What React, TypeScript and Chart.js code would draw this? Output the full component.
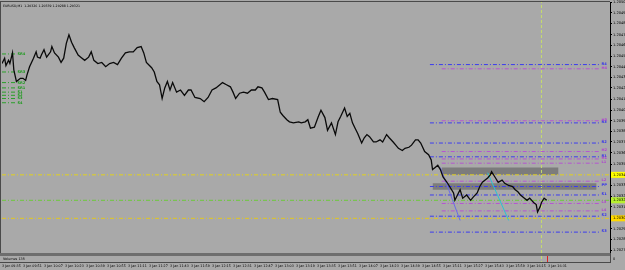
import React, { useEffect, useRef } from "react";
import { Chart, registerables } from "chart.js";
Chart.register(...registerables);

// ---- data ----
const minutes = [
  0, 2, 3, 5, 6, 8, 9, 11, 14, 16, 18, 19, 21, 24, 26, 27, 29, 30, 32, 34,
  37, 38, 40, 43, 45, 47, 49, 51, 53, 55, 58, 60, 63, 66, 68, 70, 73, 76, 79, 82,
  85, 88, 91, 94, 97, 100, 103, 106, 108, 110, 114, 116, 118, 120, 122, 124, 126, 128, 130, 133,
  136, 139, 142, 144, 147, 151, 154, 157, 160, 163, 166, 168, 171, 174, 176, 178, 181, 184, 187, 190,
  193, 195, 198, 200, 203, 206, 210, 212, 214, 217, 219, 222, 226, 228, 231, 233, 235, 238, 241, 243,
  246, 248, 251, 254, 256, 258, 261, 263, 265, 267, 269, 271, 274, 276, 278, 280, 283, 285, 288, 290,
  293, 295, 298, 300, 302, 305, 307, 310, 312, 315, 317, 319, 322, 325, 327, 328, 330, 332, 334, 336,
  339, 341, 344, 345, 347, 349, 351, 354, 357, 359, 362, 364, 366, 370, 372, 373, 376, 378, 381, 383,
  386, 389, 391, 393, 395, 398, 400, 402, 405, 407, 408, 410, 411, 413, 415,
];
const closes = [
  1.2045, 1.20455, 1.20448, 1.20453, 1.2045, 1.2046, 1.20444, 1.20433, 1.20436, 1.20436,
  1.20434, 1.20439, 1.20447, 1.20455, 1.20461, 1.20456, 1.20455, 1.20458, 1.20463, 1.20456,
  1.20461, 1.20466, 1.2046, 1.20456, 1.20451, 1.20455, 1.20469, 1.20477, 1.2047, 1.20465,
  1.20458, 1.20456, 1.20453, 1.20456, 1.20461, 1.20453, 1.2045, 1.20451, 1.20447, 1.2045,
  1.20451, 1.20449, 1.20455, 1.2046, 1.20461, 1.20461, 1.20465, 1.20466, 1.2046, 1.20451,
  1.20446, 1.20442, 1.20433, 1.2043, 1.20417, 1.20427, 1.20433, 1.20425, 1.20432, 1.20423,
  1.20425, 1.2042, 1.20425, 1.20425, 1.20418, 1.20417, 1.20414, 1.20418, 1.20425, 1.20427,
  1.2043, 1.20432, 1.2043, 1.20428, 1.20423, 1.20417, 1.20422, 1.20423, 1.20422, 1.20425,
  1.20425, 1.20428, 1.20427, 1.20423, 1.20416, 1.20417, 1.20416, 1.20404, 1.20401, 1.20397,
  1.20395, 1.20394, 1.20395, 1.20394, 1.20395, 1.20397, 1.20389, 1.2039, 1.204, 1.20406,
  1.20399, 1.20387, 1.20394, 1.20383, 1.20395, 1.204, 1.20408, 1.204, 1.20403, 1.20394,
  1.20389, 1.20384, 1.20375, 1.2038, 1.20383, 1.20381, 1.20376, 1.20376, 1.20378, 1.20376,
  1.20383, 1.2038, 1.20376, 1.20373, 1.2037, 1.20368, 1.2037, 1.20371, 1.20373, 1.20378,
  1.20378, 1.20375, 1.20367, 1.20364, 1.20359, 1.2035, 1.20352, 1.20354, 1.2035, 1.20343,
  1.20338, 1.20334, 1.20328, 1.20321, 1.20326, 1.20331, 1.20323, 1.20326, 1.20321, 1.20324,
  1.20328, 1.20334, 1.20338, 1.20342, 1.20345, 1.20348, 1.20342, 1.20338, 1.2034, 1.20337,
  1.20335, 1.20334, 1.20331, 1.20329, 1.20326, 1.20323, 1.20321, 1.20323, 1.20319, 1.20317,
  1.2031, 1.20315, 1.20319, 1.20323, 1.20321,
];

const timeLabels = [
  "3 Jan 09:35", "3 Jan 09:51", "3 Jan 10:07", "3 Jan 10:23", "3 Jan 10:39", "3 Jan 10:55",
  "3 Jan 11:11", "3 Jan 11:27", "3 Jan 11:43", "3 Jan 11:59", "3 Jan 12:15", "3 Jan 12:31",
  "3 Jan 12:47", "3 Jan 13:03", "3 Jan 13:19", "3 Jan 13:35", "3 Jan 13:51", "3 Jan 14:07",
  "3 Jan 14:23", "3 Jan 14:39", "3 Jan 14:55", "3 Jan 15:11", "3 Jan 15:27", "3 Jan 15:43",
  "3 Jan 15:59", "3 Jan 16:15", "3 Jan 16:31",
];
const timeTickStep = 16;

const priceTicks = [
  1.20508, 1.20498, 1.20488, 1.20477, 1.20467, 1.20457, 1.20447, 1.20437, 1.20427, 1.20416,
  1.20406, 1.20396, 1.20386, 1.20376, 1.20366, 1.20355, 1.20345, 1.20335, 1.20325, 1.20315,
  1.20305, 1.20294, 1.20284, 1.20274,
];
const priceMin = 1.202713;
const priceMax = 1.20508;
const minuteMax = 463.2;

const titleText = "EURUSD,M1  1.20326 1.20339 1.20288 1.20321";
const volumeText = "Volumes 135";

// pivot-like levels on the right
const blueLevels = [1.20449, 1.20394, 1.20375, 1.20362, 1.20334, 1.20326, 1.20306, 1.20291];
const blueLabels = ["R4", "R3", "R2", "R1", "PP", "S1", "S2", "S3"];
const purpleLevels = [1.20445, 1.20396, 1.20367, 1.2036, 1.20356, 1.20339, 1.20318, 1.20311];
const purpleLabels = ["H4", "H3", "H2", "H1", "L1", "L2", "L3", "L4"];
const blueStart = 326;
const purpleStart = 335;
const levelEnd = 456;

// full-width lines
const fullLevels = [1.20345, 1.20321, 1.20304];
const fullColors = ["#e3d21e", "#6cc83a", "#e3c81e"];
const fullTagColors = ["#ffff00", "#b8f030", "#ffd800"];

// left green levels
const greenLevels = [1.20459, 1.20442, 1.20432, 1.20427, 1.20423, 1.2042, 1.20417, 1.20413];
const greenLabels = ["SR4", "SR3", "SR2", "SR1", "S1", "S2", "S3", "S4"];
const greenEnd = 11;

// zones (minute from, minute to, top, bottom)
const zoneFrom = [335, 328];
const zoneTo = [424, 453];
const zoneTop = [1.20352, 1.20337];
const zoneBottom = [1.20345, 1.20331];

// trend lines
const trendFrom = [334, 370];
const trendTo = [349, 386];
const trendStartPrice = [1.20352, 1.20347];
const trendEndPrice = [1.20302, 1.20302];
const trendColors = ["#6a6ae8", "#28c4d4"];

const vlineMinute = 411;
const redTickMinute = 415;

const BG = "#a9a9a9";

export default function App() {
  const ref = useRef<HTMLCanvasElement>(null);

  useEffect(() => {
    const canvas = ref.current!;
    const dashDot = [4, 2, 1, 2];
    const datasets: any[] = [];

    datasets.push({
      data: minutes.map((m, i) => ({ x: m, y: closes[i] })),
      borderColor: "#0a0a0a",
      borderWidth: 1.3,
      pointRadius: 0,
      tension: 0,
      order: 0,
    });

    zoneFrom.forEach((f, i) => {
      datasets.push({
        data: [
          { x: f, y: zoneTop[i] },
          { x: zoneTo[i], y: zoneTop[i] },
        ],
        borderWidth: 0,
        borderColor: "rgba(0,0,0,0)",
        backgroundColor: "rgba(110,110,110,0.75)",
        fill: { target: { value: zoneBottom[i] } },
        pointRadius: 0,
        order: 5,
      });
    });

    const hline = (a: number, b: number, p: number, color: string, width = 1) => ({
      data: [
        { x: a, y: p },
        { x: b, y: p },
      ],
      borderColor: color,
      borderWidth: width,
      borderDash: dashDot,
      pointRadius: 0,
      fill: false,
      order: 3,
    });

    blueLevels.forEach((p) => datasets.push(hline(blueStart, levelEnd, p, "#3c3cee")));
    purpleLevels.forEach((p) => datasets.push(hline(purpleStart, levelEnd, p, "#b455d2")));
    fullLevels.forEach((p, i) => datasets.push(hline(0, minuteMax, p, fullColors[i])));
    greenLevels.forEach((p) => datasets.push(hline(0, greenEnd, p, "#2aa02a")));

    trendFrom.forEach((f, i) => {
      datasets.push({
        data: [
          { x: f, y: trendStartPrice[i] },
          { x: trendTo[i], y: trendEndPrice[i] },
        ],
        borderColor: trendColors[i],
        borderWidth: 1,
        pointRadius: 0,
        fill: false,
        order: 2,
      });
    });

    datasets.push({
      data: [
        { x: vlineMinute, y: priceMin },
        { x: vlineMinute, y: priceMax },
      ],
      borderColor: "#c4dc6c",
      borderWidth: 1,
      borderDash: [3, 2],
      pointRadius: 0,
      fill: false,
      order: 4,
    });

    const overlay = {
      id: "overlay",
      beforeDraw(chart: any) {
        const { ctx, width, height } = chart;
        ctx.save();
        ctx.fillStyle = BG;
        ctx.fillRect(0, 0, width, height);
        ctx.restore();
      },
      afterDraw(chart: any) {
        const { ctx, chartArea: ca, scales } = chart;
        const xs = scales.x;
        const ys = scales.y;
        ctx.save();
        // frame
        ctx.strokeStyle = "#4a4a4a";
        ctx.lineWidth = 1;
        ctx.beginPath();
        ctx.moveTo(0, ca.top - 0.5);
        ctx.lineTo(ca.right, ca.top - 0.5);
        ctx.moveTo(ca.left - 1.5, ca.top);
        ctx.lineTo(ca.left - 1.5, ca.bottom);
        ctx.stroke();
        // volume sub-window
        ctx.fillStyle = "#6e6e6e";
        ctx.fillRect(0, ca.bottom, ca.right + 1, 3);
        ctx.fillStyle = "#4a4a4a";
        ctx.fillRect(0, ca.bottom + 9, ca.right + 1, 1);
        ctx.fillRect(ca.right, ca.bottom, 1, 10);
        ctx.fillStyle = "#000";
        ctx.font = "3.4px 'DejaVu Sans'";
        ctx.textBaseline = "middle";
        ctx.textAlign = "left";
        ctx.fillText(volumeText, 3, ca.bottom + 6);
        ctx.fillText("0", ca.right + 3, ca.bottom + 6);
        // vertical line continues into the sub-window
        const vx = Math.round(xs.getPixelForValue(vlineMinute)) + 0.5;
        ctx.strokeStyle = "#c4dc6c";
        ctx.setLineDash([3, 2]);
        ctx.beginPath();
        ctx.moveTo(vx, ca.bottom + 3);
        ctx.lineTo(vx, ca.bottom + 9);
        ctx.stroke();
        ctx.setLineDash([]);
        // red tick
        const rx = Math.round(xs.getPixelForValue(redTickMinute)) + 0.5;
        ctx.strokeStyle = "#e02020";
        ctx.beginPath();
        ctx.moveTo(rx, ca.bottom + 3);
        ctx.lineTo(rx, ca.bottom + 9);
        ctx.stroke();
        // title
        ctx.fillStyle = "#000";
        ctx.font = "3.2px 'DejaVu Sans'";
        ctx.fillText(titleText, 3, 6);
        // level labels
        ctx.font = "bold 3.6px 'DejaVu Sans'";
        const lx = xs.getPixelForValue(levelEnd) + 1;
        blueLevels.forEach((p, i) => {
          ctx.fillStyle = "#3030ee";
          ctx.fillText(blueLabels[i], lx, ys.getPixelForValue(p) - 1);
        });
        purpleLevels.forEach((p, i) => {
          ctx.fillStyle = "#b040d0";
          ctx.fillText(purpleLabels[i], lx, ys.getPixelForValue(p) - 1);
        });
        const gx = xs.getPixelForValue(greenEnd) + 1;
        greenLevels.forEach((p, i) => {
          ctx.fillStyle = "#1e9a1e";
          ctx.fillText(greenLabels[i], gx, ys.getPixelForValue(p));
        });
        // price tags on the axis
        ctx.font = "3.6px 'DejaVu Sans'";
        fullLevels.forEach((p, i) => {
          const py = ys.getPixelForValue(p);
          ctx.fillStyle = fullTagColors[i];
          ctx.fillRect(ca.right + 1, py - 3, 625 - ca.right - 1, 6);
          ctx.fillStyle = "#000";
          ctx.fillText(p.toFixed(5), ca.right + 3, py);
        });
        ctx.restore();
      },
    };

    const chart = new Chart(canvas, {
      type: "line",
      data: { datasets },
      options: {
        animation: false,
        responsive: false,
        devicePixelRatio: 1,
        layout: { padding: { left: 2, top: 2, right: 0, bottom: 0 } },
        plugins: {
          legend: { display: false },
          tooltip: { enabled: false },
          title: { display: false },
        },
        elements: { line: { borderCapStyle: "butt" } },
        scales: {
          x: {
            type: "linear",
            min: 0,
            max: minuteMax,
            grid: { display: false, drawTicks: false },
            border: { display: false },
            afterFit: (s: any) => {
              s.height = 17;
              s.paddingLeft = 0;
              s.paddingRight = 0;
            },
            afterBuildTicks: (s: any) => {
              s.ticks = timeLabels.map((_, k) => ({ value: k * timeTickStep }));
            },
            ticks: {
              autoSkip: false,
              maxRotation: 0,
              minRotation: 0,
              align: "start",
              padding: 11,
              color: "#000",
              font: { size: 3.3, family: "DejaVu Sans" },
              callback: (_v: any, i: number) => timeLabels[i],
            },
          },
          y: {
            type: "linear",
            position: "right",
            min: priceMin,
            max: priceMax,
            grid: { display: true, drawOnChartArea: false, drawTicks: true, tickLength: 2, color: "#000" },
            border: { display: true, color: "#000" },
            afterFit: (s: any) => {
              s.width = 15;
              s.paddingTop = 0;
              s.paddingBottom = 0;
            },
            afterBuildTicks: (s: any) => {
              s.ticks = priceTicks.map((v) => ({ value: v }));
            },
            ticks: {
              autoSkip: false,
              padding: 1,
              color: "#000",
              font: { size: 3.6, family: "DejaVu Sans" },
              callback: (v: any) => Number(v).toFixed(5),
            },
          },
        },
      } as any,
      plugins: [overlay],
    });
    return () => chart.destroy();
  }, []);

  return (
    <div style={{ position: "fixed", left: 0, top: 0, width: 625, height: 270, background: BG }}>
      <canvas ref={ref} width={625} height={270} style={{ display: "block" }} />
    </div>
  );
}
